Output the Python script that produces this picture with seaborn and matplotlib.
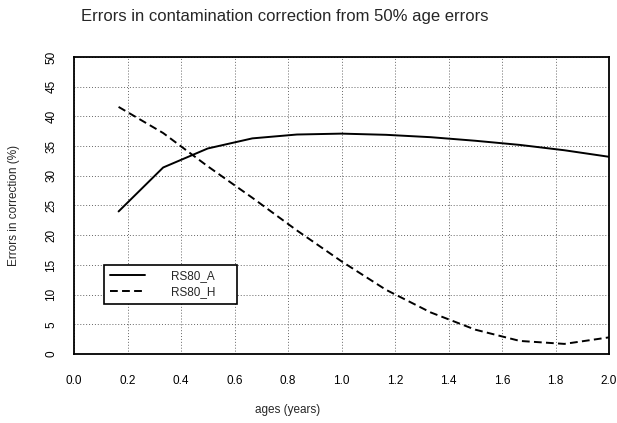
import seaborn as sns
import matplotlib.pyplot as plt
import numpy as np
import pandas as pd
from matplotlib.lines import Line2D

# ages in years (sixths of a year)
ages = [1/6, 2/6, 3/6, 4/6, 5/6, 1.0, 7/6, 8/6, 9/6, 10/6, 11/6, 2.0]
err_A = [24.0, 31.4, 34.6, 36.3, 36.95, 37.1, 36.9, 36.5, 35.9, 35.2, 34.3, 33.2]
err_H = [41.6, 37.2, 31.6, 26.3, 20.8, 15.6, 10.8, 7.0, 4.1, 2.2, 1.7, 2.8]
series_names = ['RS80_A', 'RS80_H']

df = pd.DataFrame({
    'age': ages * 2,
    'err': err_A + err_H,
    'series': [series_names[0]] * len(ages) + [series_names[1]] * len(ages),
})

sns.set_style('white')
plt.rcParams['font.family'] = ['Liberation Sans', 'DejaVu Sans']

fig = plt.figure(figsize=(6.17, 4.23), dpi=100)
ax = fig.add_axes([74/617, 1-354/423, (609-74)/617, (354-57)/423])

sns.lineplot(data=df, x='age', y='err', style='series', ax=ax,
             color='black', linewidth=1.4,
             dashes={'RS80_A': '', 'RS80_H': (4, 2.2)}, legend=False)

ax.set_xlim(0, 2.0)
ax.set_ylim(0, 50)
ax.set_xticks(np.arange(0, 2.01, 0.2))
ax.set_xticklabels(['%.1f' % v for v in np.arange(0, 2.01, 0.2)])
ax.set_yticks(np.arange(0, 51, 5))
ax.grid(True, linestyle=(0, (1, 2)), color='#666666', linewidth=0.7)
for s in ax.spines.values():
    s.set_color('black')
    s.set_linewidth(1.3)
ax.tick_params(axis='both', direction='in', length=6.5, width=1.2,
               colors='black', labelsize=8.5)
ax.tick_params(axis='x', pad=15)
ax.tick_params(axis='y', pad=12)
for lab in ax.get_yticklabels():
    lab.set_rotation(90)
    lab.set_va('center')
ax.set_xlabel('')
ax.set_ylabel('')

fig.text(288/617, 1-410/423, 'ages (years)', ha='center', va='center', fontsize=8.5)
fig.text(14/617, 1-205/423, 'Errors in correction (%)', ha='center', va='center',
         rotation=90, fontsize=8.5)
fig.text(285/617, 1-17/423, 'Errors in contamination correction from 50% age errors',
         ha='center', va='center', fontsize=12)

# legend box
handles = [Line2D([], [], color='black', lw=1.4),
           Line2D([], [], color='black', lw=1.4, dashes=(4, 2.2))]
leg = ax.legend(handles, series_names, loc='lower left',
                bbox_to_anchor=((104-74)/535, (354-304)/297, (237-104)/535, (304-257)/297),
                mode='expand', frameon=True, fancybox=False, fontsize=8.5,
                handlelength=3.0, handletextpad=2.2, borderpad=0.5, labelspacing=0.3,
                borderaxespad=0)
leg.get_frame().set_edgecolor('black')
leg.get_frame().set_linewidth(1.2)
leg.get_frame().set_alpha(1)

fig.savefig('out.png', dpi=100)
